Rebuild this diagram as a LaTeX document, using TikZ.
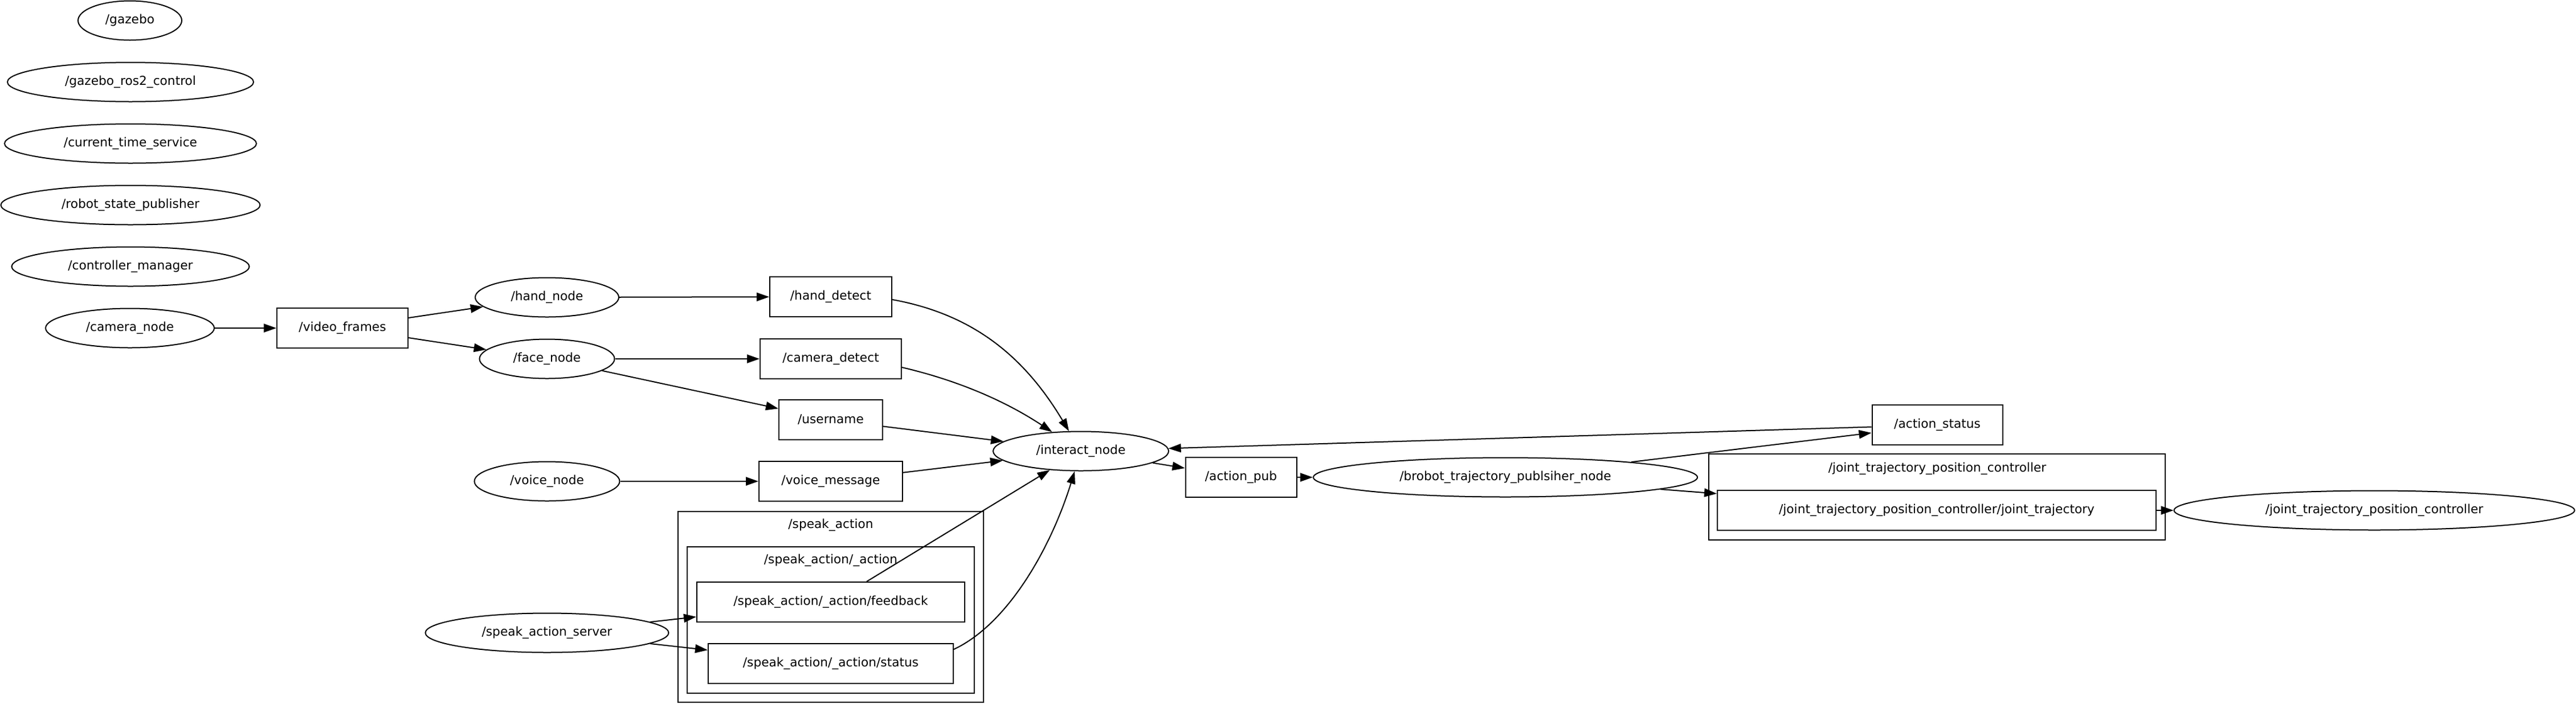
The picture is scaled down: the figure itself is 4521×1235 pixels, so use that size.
\documentclass[tikz,border=0pt]{standalone}
\usepackage{fontspec}
\setmainfont{DejaVu Sans}
\usetikzlibrary{shapes.geometric,arrows.meta}
\begin{document}
\begin{tikzpicture}[x=1pt,y=-1pt,
  every node/.style={font=\fontsize{21.7pt}{26pt}\selectfont, inner sep=0pt},
  ell/.style={draw, ellipse, line width=2pt, minimum height=69pt},
  topic/.style={draw, rectangle, line width=2pt, minimum height=70pt},
  clus/.style={draw, rectangle, line width=1.6pt},
  arr/.style={line width=2pt, -{Triangle[length=22pt,width=15pt]}},
]
\useasboundingbox (0,0) rectangle (4521,1235);

% clusters
\node[clus, minimum width=536pt, minimum height=335pt] (spk) at (1458,1065.5) {};
\node (spklbl) at (1458,922) {/speak\_action};
\node[clus, minimum width=504pt, minimum height=257pt] (spkact) at (1458,1088.5) {};
\node (spkactlbl) at (1458,984) {/speak\_action/\_action};
\node[clus, minimum width=801pt, minimum height=151pt] (jtc) at (3399.5,872.5) {};
\node (jtclbl) at (3400,823) {/joint\_trajectory\_position\_controller};

% isolated nodes
\node[ell, minimum width=182pt] (gazebo) at (228,36) {/gazebo};
\node[ell, minimum width=432pt] (gazros) at (229,144) {/gazebo\_ros2\_control};
\node[ell, minimum width=442pt] (cts) at (229,252) {/current\_time\_service};
\node[ell, minimum width=455pt] (rsp) at (229,360) {/robot\_state\_publisher};
\node[ell, minimum width=417pt] (cm) at (229,468) {/controller\_manager};

% graph nodes
\node[ell, minimum width=296pt] (camera) at (228,576) {/camera\_node};
\node[topic, minimum width=230pt] (video) at (601,576) {/video\_frames};
\node[ell, minimum width=252pt] (handn) at (960,522) {/hand\_node};
\node[ell, minimum width=237pt] (facen) at (960,630) {/face\_node};
\node[ell, minimum width=255pt] (voicen) at (960,845) {/voice\_node};
\node[ell, minimum width=427pt] (sas) at (960,1111) {/speak\_action\_server};
\node[topic, minimum width=214pt] (handd) at (1458,521) {/hand\_detect};
\node[topic, minimum width=248pt] (camd) at (1458,630) {/camera\_detect};
\node[topic, minimum width=182pt] (user) at (1458,737) {/username};
\node[topic, minimum width=252pt] (voicem) at (1458,845) {/voice\_message};
\node[topic, minimum width=470pt] (fb) at (1458,1057) {/speak\_action/\_action/feedback};
\node[topic, minimum width=430pt] (st) at (1458,1165) {/speak\_action/\_action/status};
\node[ell, minimum width=308pt] (inter) at (1897,792) {/interact\_node};
\node[topic, minimum width=195pt] (apub) at (2178,838) {/action\_pub};
\node[ell, minimum width=674pt] (brobot) at (2642,838) {/brobot\_trajectory\_publsiher\_node};
\node[topic, minimum width=229pt] (astat) at (3400,746) {/action\_status};
\node[topic, minimum width=770pt] (jt) at (3399,896) {/joint\_trajectory\_position\_controller/joint\_trajectory};
\node[ell, minimum width=703pt] (jtpc) at (4167,896) {/joint\_trajectory\_position\_controller};

% edges
\draw[arr] (camera) -- (video);
\draw[arr] ([yshift=18pt]video.east) -- (handn);
\draw[arr] ([yshift=-17pt]video.east) -- (facen);
\draw[arr] (handn) -- (handd);
\draw[arr] (facen) -- (camd);
\draw[arr] (facen) -- (user);
\draw[arr] (voicen) -- (voicem);
\draw[arr] ([yshift=-5pt]handd.east) .. controls (1710,552) and (1799,628) .. (inter);
\draw[arr] ([yshift=-15pt]camd.east) .. controls (1682,668) and (1766,705) .. (inter);
\draw[arr] (user) -- (inter);
\draw[arr] (voicem) -- (inter);
\draw[arr] ([xshift=63pt]fb.north) -- (inter);
\draw[arr] ([yshift=25pt]st.east) .. controls (1770,1095) and (1845,960) .. (inter);
\draw[arr] (sas.6) -- (fb);
\draw[arr] (sas.-6) -- (st);
\draw[arr] (inter) -- (apub);
\draw[arr] (apub) -- (brobot);
\draw[arr] (brobot) -- (astat);
\draw[arr] (astat) -- (inter);
\draw[arr] (brobot) -- (jt);
\draw[arr] (jt) -- (jtpc);
\end{tikzpicture}
\end{document}
